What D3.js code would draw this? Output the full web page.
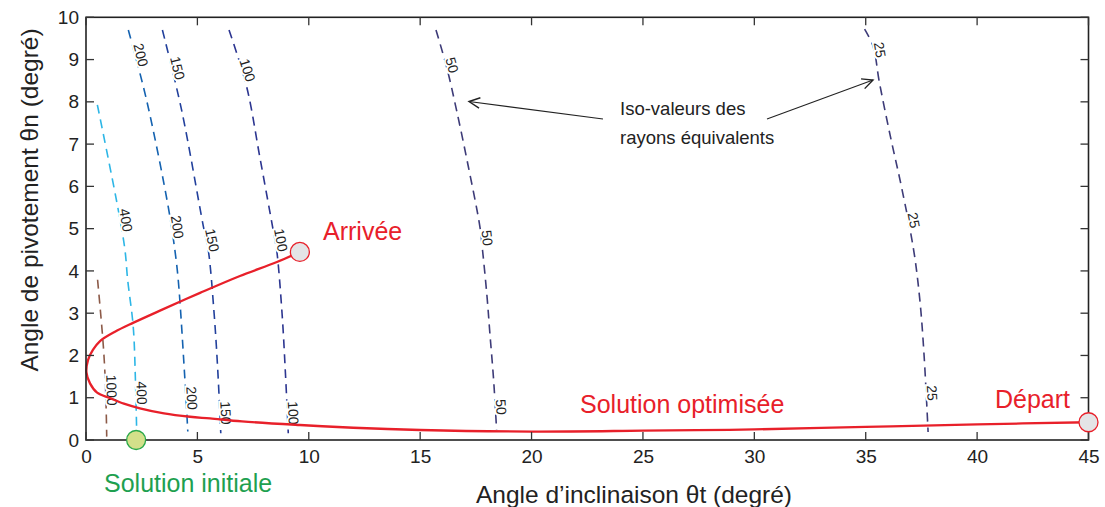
<!DOCTYPE html>
<html><head><meta charset="utf-8">
<script src="https://cdn.jsdelivr.net/npm/d3@7/dist/d3.min.js"></script>
<style>body{margin:0;background:#fff}svg text{font-family:"Liberation Sans",Arial,Helvetica,sans-serif}</style>
</head><body><svg id="c" width="1105" height="507"></svg>
<script>
// ---- data ----
const xTicks = [0,5,10,15,20,25,30,35,40,45];
const yTicks = [0,1,2,3,4,5,6,7,8,9,10];
const iso25   = [[34.95,9.72],[35.34,9.3],[35.6,8.5],[36.1,7.2],[36.6,6.0],[37.15,4.5],[37.43,3.31],[37.62,2.0],[37.8,0.19]];
const iso50   = [[15.71,9.70],[16.2,8.8],[16.63,7.81],[17.15,6.5],[17.68,5.05],[17.8,4.49],[18.0,3.4],[18.13,2.52],[18.3,1.4],[18.43,0.24]];
const iso100  = [[6.42,9.70],[7.21,8.36],[7.8,6.7],[8.40,4.97],[8.56,4.49],[8.8,3.0],[8.95,1.6],[9.08,0.16]];
const iso150  = [[3.43,9.70],[4.29,7.81],[5.27,5.05],[5.49,4.49],[5.75,3.0],[5.92,1.6],[6.05,0.16]];
const iso200  = [[1.90,9.70],[2.72,8.04],[3.69,5.52],[3.99,4.49],[4.14,3.79],[4.42,1.6],[4.57,0.2]];
const iso400  = [[0.51,7.93],[1.45,5.44],[1.75,4.49],[1.87,3.79],[2.12,2.68],[2.22,1.4],[2.27,0.31]];
const iso1000 = [[0.52,3.79],[0.78,2.21],[0.88,1.2],[0.93,0.08]];
const isoLevels = [25,50,100,150,200,400,1000];
const isoLines  = [iso25,iso50,iso100,iso150,iso200,iso400,iso1000];
const isoColors = ["#3d3b78","#3d3b78","#2c3590","#22409c","#1462b0","#2db6e6","#8c5a48"];
const isoLabelAt = [[9.23,5.2,1.11],[8.87,4.78,0.78],[8.75,4.73,0.64],[8.8,4.73,0.64],[9.11,5.04,0.99],[5.2,1.11],[1.18]];
const optimised = [[45,0.42],[40,0.37],[35,0.31],[30,0.25],[25,0.22],[20,0.2],[15,0.237],[12,0.29],[9.6,0.355],[7,0.44],[5.57,0.51],[4.67,0.55],[3.5,0.63],[2.42,0.75],[1.7,0.86],[1.08,0.99],[0.5,1.12],[0.18,1.34],[0.02,1.6],[0.09,1.89],[0.31,2.13],[0.63,2.34],[1.3,2.56],[2.11,2.77],[3.32,3.06],[5.12,3.48],[6.91,3.88],[8.57,4.21],[9.6,4.45]];
const depart = [45,0.42], arrivee = [9.6,4.45], initiale = [2.25,0];

// ---- chart ----
const svg = d3.select("#c");
const L=86,R=1088.5,T=17.3,B=440;
const x = d3.scaleLinear().domain([0,45]).range([L,R]);
const y = d3.scaleLinear().domain([0,10]).range([B,T]);
const smooth = d3.line().x(d=>x(d[0])).y(d=>y(d[1])).curve(d3.curveCatmullRom);

// iso lines
const gIso = svg.append("g");
isoLines.forEach((pts,i)=>{
  gIso.append("path").attr("d",smooth(pts))
    .attr("fill","none").attr("stroke",isoColors[i]).attr("stroke-width",1.6)
    .attr("stroke-dasharray","9,6");
});
// labels
function posAt(pts,v){
  for(let k=0;k<pts.length-1;k++){
    const a=pts[k],b=pts[k+1];
    if((v<=a[1]&&v>=b[1])||(v>=a[1]&&v<=b[1])){
      const t=(v-a[1])/(b[1]-a[1]);
      const px=x(a[0]+t*(b[0]-a[0])), py=y(v);
      const ang=Math.atan2(y(b[1])-y(a[1]),x(b[0])-x(a[0]))*180/Math.PI;
      return [px,py,ang];
    }
  }
  const p=pts[pts.length-1]; return [x(p[0]),y(p[1]),85];
}
isoLines.forEach((pts,i)=>{
  isoLabelAt[i].forEach(v=>{
    const [px,py,ang]=posAt(pts,v);
    svg.append("text").attr("transform",`translate(${px+6},${py}) rotate(${ang})`)
      .attr("text-anchor","middle").attr("dy","0.35em").attr("font-size",14)
      .attr("fill","#222").attr("stroke","#fff").attr("stroke-width",4)
      .attr("paint-order","stroke").text(isoLevels[i]);
  });
});

// optimised path
svg.append("path").attr("d",smooth(optimised))
  .attr("fill","none").attr("stroke","#e8202a").attr("stroke-width",2.3);

// axes box
svg.append("rect").attr("x",L).attr("y",T).attr("width",R-L).attr("height",B-T)
  .attr("fill","none").attr("stroke","#222").attr("stroke-width",1.6);
const tk=8;
const gAx=svg.append("g").attr("stroke","#333").attr("stroke-width",1.3);
xTicks.forEach(v=>{
  gAx.append("line").attr("x1",x(v)).attr("x2",x(v)).attr("y1",B).attr("y2",B-tk);
  gAx.append("line").attr("x1",x(v)).attr("x2",x(v)).attr("y1",T).attr("y2",T+tk);
});
yTicks.forEach(v=>{
  gAx.append("line").attr("y1",y(v)).attr("y2",y(v)).attr("x1",L).attr("x2",L+tk);
  gAx.append("line").attr("y1",y(v)).attr("y2",y(v)).attr("x1",R).attr("x2",R-tk);
});
const xAxisG = svg.append("g").attr("transform",`translate(0,${B})`)
  .call(d3.axisBottom(x).tickValues(xTicks).tickSize(0).tickPadding(10));
const yAxisG = svg.append("g").attr("transform",`translate(${L},0)`)
  .call(d3.axisLeft(y).tickValues(yTicks).tickSize(0).tickPadding(7));
[xAxisG,yAxisG].forEach(g=>{g.select(".domain").remove();
  g.selectAll("text").attr("font-size",19).attr("fill","#222")
   .attr("font-family","Liberation Sans, Arial, sans-serif");});

// markers
svg.append("circle").attr("cx",x(depart[0])).attr("cy",y(depart[1])).attr("r",9.5)
  .attr("fill","#e4e4e6").attr("stroke","#e8202a").attr("stroke-width",1.3);
svg.append("circle").attr("cx",x(arrivee[0])).attr("cy",y(arrivee[1])).attr("r",9.5)
  .attr("fill","#e4e4e6").attr("stroke","#e8202a").attr("stroke-width",1.3);
svg.append("circle").attr("cx",x(initiale[0])).attr("cy",y(initiale[1])).attr("r",9.5)
  .attr("fill","#d3e08a").attr("stroke","#2aa84a").attr("stroke-width",1.3);

// texts
const red="#e8202a";
svg.append("text").attr("x",323).attr("y",240).attr("font-size",25).attr("fill",red).text("Arrivée");
svg.append("text").attr("x",580).attr("y",413).attr("font-size",25).attr("fill",red).text("Solution optimisée");
svg.append("text").attr("x",995).attr("y",408).attr("font-size",25).attr("fill",red).text("Départ");
svg.append("text").attr("x",104).attr("y",492).attr("font-size",25).attr("fill","#1ea050").text("Solution initiale");
svg.append("text").attr("x",634).attr("y",503).attr("text-anchor","middle").attr("font-size",24.5).attr("fill","#222").text("Angle d’inclinaison θt (degré)");
svg.append("text").attr("transform","translate(38,200) rotate(-90)").attr("text-anchor","middle").attr("font-size",24.5).attr("fill","#222").text("Angle de pivotement θn (degré)");
svg.append("text").attr("x",620).attr("y",115).attr("font-size",18.5).attr("fill","#222").text("Iso-valeurs des");
svg.append("text").attr("x",620).attr("y",144).attr("font-size",18.5).attr("fill","#222").text("rayons équivalents");

// arrows
function arrow(x1,y1,x2,y2){
  svg.append("line").attr("x1",x1).attr("y1",y1).attr("x2",x2).attr("y2",y2).attr("stroke","#222").attr("stroke-width",1.1);
  const a=Math.atan2(y1-y2,x1-x2), s=12, w=0.45;
  const p=[[x2+s*Math.cos(a+w),y2+s*Math.sin(a+w)],[x2,y2],[x2+s*Math.cos(a-w),y2+s*Math.sin(a-w)]];
  svg.append("path").attr("d",d3.line()(p)).attr("fill","none").attr("stroke","#222").attr("stroke-width",1.4);
}
arrow(603,119,469,101.5);
arrow(767,119,873,80);
</script></body></html>
